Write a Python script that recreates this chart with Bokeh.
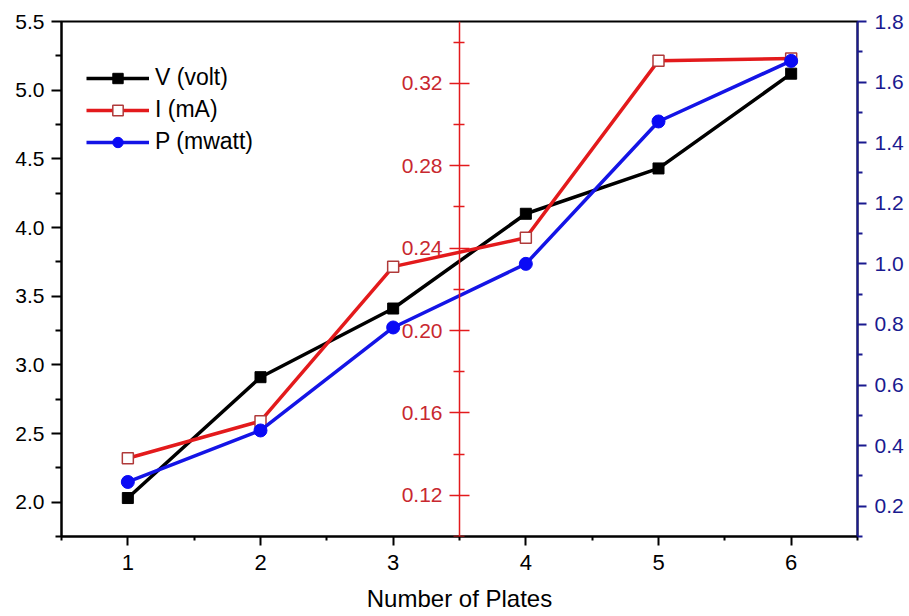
from bokeh.plotting import figure
from bokeh.models import Range1d, LinearAxis, FixedTicker, PrintfTickFormatter, Legend, LegendItem
from bokeh.embed import file_html
from bokeh.resources import INLINE

plates = [1, 2, 3, 4, 5, 6]
voltage = [2.03, 2.91, 3.41, 4.10, 4.43, 5.12]
current = [0.138, 0.156, 0.231, 0.245, 0.331, 0.332]
power = [0.28, 0.45, 0.79, 1.00, 1.47, 1.67]

x_ticks = [1, 2, 3, 4, 5, 6]
x_minor = [0.5, 1.5, 2.5, 3.5, 4.5, 5.5, 6.5]
v_ticks = [2.0, 2.5, 3.0, 3.5, 4.0, 4.5, 5.0, 5.5]
v_minor = [1.75, 2.25, 2.75, 3.25, 3.75, 4.25, 4.75, 5.25]
i_ticks = [0.12, 0.16, 0.20, 0.24, 0.28, 0.32]
i_minor = [0.10, 0.14, 0.18, 0.22, 0.26, 0.30, 0.34]
p_ticks = [0.2, 0.4, 0.6, 0.8, 1.0, 1.2, 1.4, 1.6, 1.8]
p_minor = [0.1, 0.3, 0.5, 0.7, 0.9, 1.1, 1.3, 1.5, 1.7]

FONT = "Liberation Sans"
BLACK = "#000000"
RED = "#e31a1c"
RED_TXT = "#c8282f"
BLUE = "#1414e6"
NAVY = "#1a1a8f"

p = figure(frame_width=796, frame_height=515,
           x_range=Range1d(0.5, 6.5), y_range=Range1d(1.75, 5.5),
           output_backend="svg", toolbar_location=None,
           min_border_left=61, min_border_top=21, min_border_right=46, min_border_bottom=70,
           background_fill_color="white", border_fill_color="white")
p.grid.visible = False
p.outline_line_color = "black"
p.outline_line_width = 2

p.extra_y_ranges = {"I": Range1d(0.10, 0.35), "P": Range1d(0.10, 1.80)}

def style(ax, color, txt, ticks, minor, fmt, tin=0, tout=10, standoff=7, fs="21px"):
    ax.ticker = FixedTicker(ticks=ticks, minor_ticks=minor)
    ax.formatter = PrintfTickFormatter(format=fmt)
    ax.axis_line_color = color
    ax.axis_line_width = 2
    ax.major_tick_line_color = color
    ax.minor_tick_line_color = color
    ax.major_tick_line_width = 2
    ax.minor_tick_line_width = 2
    ax.major_tick_in = tin
    ax.major_tick_out = tout
    ax.minor_tick_in = tin // 2
    ax.minor_tick_out = tout // 2 + 1
    ax.major_label_text_color = txt
    ax.major_label_text_font = FONT
    ax.major_label_text_font_size = fs
    ax.major_label_standoff = standoff

# bottom x axis
xa = p.xaxis[0]
style(xa, BLACK, BLACK, x_ticks, x_minor, "%d", tout=9, standoff=9, fs="22px")
xa.minor_tick_out = 4
xa.axis_label = "Number of Plates"
xa.axis_label_text_font = FONT
xa.axis_label_text_font_size = "24px"
xa.axis_label_text_font_style = "normal"
xa.axis_label_text_color = BLACK
xa.axis_label_standoff = 12

# left y axis (V)
ya = p.yaxis[0]
style(ya, BLACK, BLACK, v_ticks, v_minor, "%.1f", tout=10, standoff=7)

# middle red axis (I) fixed at x=3.5
ia = LinearAxis(y_range_name="I", fixed_location=3.5)
style(ia, RED, RED_TXT, i_ticks, i_minor, "%.2f", tin=10, tout=10, standoff=7)
ia.axis_line_width = 1.5
ia.major_tick_line_width = 1.5
ia.minor_tick_line_width = 1.5
p.add_layout(ia, "left")

# right navy axis (P)
pa = LinearAxis(y_range_name="P")
style(pa, NAVY, NAVY, p_ticks, p_minor, "%.1f", tout=9, standoff=8)
p.add_layout(pa, "right")

# series
lv = p.line(plates, voltage, line_color=BLACK, line_width=3.5)
mv = p.scatter(plates, voltage, marker="square", size=11, fill_color=BLACK, line_color=BLACK)

li = p.line(plates, current, line_color=RED, line_width=3.5, y_range_name="I")
mi = p.scatter(plates, current, marker="square", size=11, fill_color="white",
               line_color="#b03a3a", line_width=1.5, y_range_name="I")

lp = p.line(plates, power, line_color=BLUE, line_width=3.5, y_range_name="P")
mp = p.scatter(plates, power, marker="circle", size=13, fill_color="#0a0af5",
               line_color="#0a0af5", y_range_name="P")

legend = Legend(items=[
    LegendItem(label="V (volt)", renderers=[lv, mv]),
    LegendItem(label="I (mA)", renderers=[li, mi]),
    LegendItem(label="P (mwatt)", renderers=[lp, mp]),
], location=(25, 381))
legend.border_line_color = None
legend.background_fill_alpha = 0
legend.label_text_font = FONT
legend.label_text_font_size = "23px"
legend.label_text_color = BLACK
legend.glyph_width = 63
legend.glyph_height = 26
legend.label_height = 26
legend.spacing = 5
legend.padding = 4
legend.margin = 0
legend.label_standoff = 6
p.add_layout(legend)

open("out.html", "w").write(file_html(p, INLINE))
